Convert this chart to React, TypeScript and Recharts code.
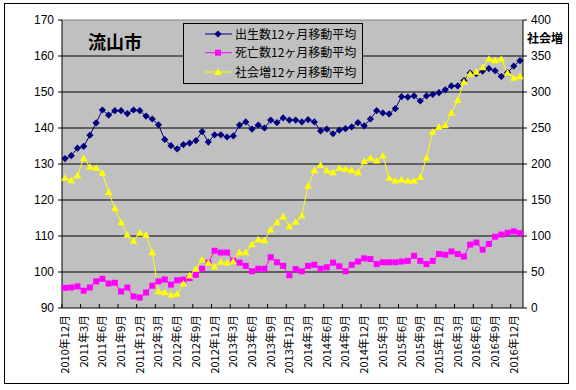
import React from "react";
import {
  LineChart,
  Line,
  XAxis,
  YAxis,
  CartesianGrid,
  ReferenceLine,
} from "recharts";

// 月別カテゴリ (2010年12月〜2017年1月)
const months = [
  "2010年12月",
  "2011年1月", "2011年2月", "2011年3月", "2011年4月", "2011年5月", "2011年6月",
  "2011年7月", "2011年8月", "2011年9月", "2011年10月", "2011年11月", "2011年12月",
  "2012年1月", "2012年2月", "2012年3月", "2012年4月", "2012年5月", "2012年6月",
  "2012年7月", "2012年8月", "2012年9月", "2012年10月", "2012年11月", "2012年12月",
  "2013年1月", "2013年2月", "2013年3月", "2013年4月", "2013年5月", "2013年6月",
  "2013年7月", "2013年8月", "2013年9月", "2013年10月", "2013年11月", "2013年12月",
  "2014年1月", "2014年2月", "2014年3月", "2014年4月", "2014年5月", "2014年6月",
  "2014年7月", "2014年8月", "2014年9月", "2014年10月", "2014年11月", "2014年12月",
  "2015年1月", "2015年2月", "2015年3月", "2015年4月", "2015年5月", "2015年6月",
  "2015年7月", "2015年8月", "2015年9月", "2015年10月", "2015年11月", "2015年12月",
  "2016年1月", "2016年2月", "2016年3月", "2016年4月", "2016年5月", "2016年6月",
  "2016年7月", "2016年8月", "2016年9月", "2016年10月", "2016年11月", "2016年12月",
  "2017年1月",
];

const births = [
  131.5, 132.3, 134.4, 134.9, 138.0, 141.4, 145.0, 143.6, 144.8, 144.8,
  144.0, 145.0, 144.8, 143.3, 142.5, 140.9, 136.8, 135.1, 134.2, 135.4,
  135.8, 136.5, 139.0, 136.1, 138.1, 138.1, 137.5, 137.8, 140.8, 141.7,
  139.7, 140.8, 140.0, 142.2, 141.5, 142.8, 142.2, 142.2, 141.7, 142.3,
  141.7, 139.2, 139.7, 138.4, 139.4, 139.8, 140.3, 141.5, 140.6, 142.5,
  144.8, 144.2, 143.9, 145.4, 148.7, 148.6, 148.9, 147.5, 148.9, 149.3,
  149.8, 150.6, 151.7, 151.7, 153.2, 155.3, 155.1, 155.8, 156.5, 155.9,
  154.3, 155.4, 157.2, 158.7,
];

const deaths = [
  95.6, 95.7, 96.0, 94.8, 95.7, 97.4, 98.1, 96.8, 97.0, 94.6,
  95.7, 93.2, 92.9, 94.3, 96.2, 97.4, 97.9, 96.5, 97.7, 97.9,
  98.3, 99.2, 100.9, 102.6, 105.9, 105.4, 105.4, 103.1, 102.6, 101.7,
  100.2, 100.9, 100.9, 104.1, 102.7, 101.7, 99.1, 100.8, 100.2, 101.7,
  102.0, 100.9, 101.3, 102.6, 101.6, 100.2, 102.0, 102.9, 103.8, 103.6,
  102.2, 102.7, 102.7, 102.7, 102.9, 103.1, 104.5, 103.1, 102.2, 103.1,
  105.0, 104.8, 105.7, 105.0, 104.3, 107.6, 108.2, 106.2, 107.8, 109.8,
  110.4, 110.9, 111.3, 110.8,
];

const socialGain = [
  180.6, 177.0, 183.8, 208.0, 195.8, 194.4, 187.5, 161.0, 138.3, 118.9,
  101.8, 93.0, 104.2, 101.4, 77.2, 23.0, 21.7, 18.0, 19.4, 33.7,
  44.9, 54.2, 67.0, 62.5, 57.5, 63.9, 62.5, 64.7, 77.2, 77.2,
  88.3, 94.9, 93.9, 108.8, 118.9, 127.2, 113.3, 119.4, 128.2, 169.5,
  191.2, 198.5, 191.2, 188.4, 194.4, 193.0, 191.2, 188.4, 203.7, 208.3,
  204.6, 211.5, 180.6, 176.7, 178.2, 176.7, 176.7, 181.5, 208.3, 244.5,
  251.4, 253.7, 270.9, 288.5, 313.9, 325.0, 327.8, 334.2, 345.9, 343.9,
  345.9, 326.4, 319.5, 321.7,
];

const leftTicks = [90, 100, 110, 120, 130, 140, 150, 160, 170];
const rightTicks = [0, 50, 100, 150, 200, 250, 300, 350, 400];
const gridValues = [100, 110, 120, 130, 140, 150, 160];

const seriesNames = [
  "出生数12ヶ月移動平均",
  "死亡数12ヶ月移動平均",
  "社会増12ヶ月移動平均",
];

const BLUE = "#000080";
const MAGENTA = "#FF00FF";
const YELLOW = "#FFFF00";

const data = months.map((m, i) => ({
  month: m,
  births: births[i],
  deaths: deaths[i],
  social: socialGain[i],
}));

const jp = "'Noto Sans CJK JP', sans-serif";

const Diamond = (p: any) => {
  const { cx, cy, index } = p;
  if (cx == null || cy == null) return <g key={`b-${index}`} />;
  const r = 3.6;
  return (
    <path
      key={`b-${index}`}
      d={`M${cx},${cy - r}L${cx + r},${cy}L${cx},${cy + r}L${cx - r},${cy}Z`}
      fill={BLUE}
    />
  );
};

const Square = (p: any) => {
  const { cx, cy, index } = p;
  if (cx == null || cy == null) return <g key={`d-${index}`} />;
  return <rect key={`d-${index}`} x={cx - 3} y={cy - 3} width={6} height={6} fill={MAGENTA} />;
};

const Triangle = (p: any) => {
  const { cx, cy, index } = p;
  if (cx == null || cy == null) return <g key={`s-${index}`} />;
  return (
    <path
      key={`s-${index}`}
      d={`M${cx},${cy - 3.8}L${cx + 3.8},${cy + 2.8}L${cx - 3.8},${cy + 2.8}Z`}
      fill={YELLOW}
    />
  );
};

const MonthTick = ({ x, y, payload }: any) => (
  <g transform={`translate(${x},${y})`}>
    <line x1={-3.1} x2={-3.1} y1={0} y2={-4} stroke="#000" />
    <text
      transform="rotate(-90)"
      x={-7}
      y={4}
      textAnchor="end"
      fontSize={11}
      fontFamily={jp}
      fill="#000"
    >
      {payload.value}
    </text>
  </g>
);

const legendMarks = [
  <path key="m0" d="M218,30.4L221.6,34L218,37.6L214.4,34Z" fill={BLUE} />,
  <rect key="m1" x={215} y={49.7} width={6} height={6} fill={MAGENTA} />,
  <path key="m2" d="M218,68.5L221.8,75.1L214.2,75.1Z" fill={YELLOW} />,
];

export default function App() {
  const colors = [BLUE, MAGENTA, YELLOW];
  const rows = [34, 52.7, 72];
  return (
    <div style={{ position: "absolute", left: 0, top: 0, width: 576, height: 390, background: "#fff" }}>
      <div
        style={{
          position: "absolute",
          left: 4,
          top: 3,
          width: 563,
          height: 379,
          border: "1px solid #000",
        }}
      />
      <LineChart
        width={576}
        height={390}
        data={data}
        margin={{ top: 20, right: 8, bottom: 12, left: 12 }}
        style={{ position: "absolute", left: 0, top: 0 }}
      >
        <CartesianGrid
          yAxisId="left"
          vertical={false}
          horizontalValues={gridValues}
          stroke="#000"
          strokeWidth={1}
          fill="#C0C0C0"
          fillOpacity={1}
        />
        <XAxis
          dataKey="month"
          interval={2}
          padding={{ left: 3, right: 3 }}
          height={70}
          tickSize={0}
          tickMargin={0}
          tickLine={false}
          axisLine={{ stroke: "#000" }}
          tick={<MonthTick />}
        />
        <YAxis
          yAxisId="left"
          domain={[90, 170]}
          ticks={leftTicks}
          interval={0}
          width={50}
          tickSize={4}
          tickMargin={4}
          axisLine={{ stroke: "#000" }}
          tickLine={{ stroke: "#000" }}
          tick={{ fill: "#000", fontSize: 12, fontFamily: "'Liberation Sans', Arial, sans-serif" }}
        />
        <YAxis
          yAxisId="right"
          orientation="right"
          domain={[0, 400]}
          ticks={rightTicks}
          interval={0}
          width={45}
          tickSize={4}
          tickMargin={4}
          axisLine={{ stroke: "#000" }}
          tickLine={{ stroke: "#000" }}
          tick={{ fill: "#000", fontSize: 12, fontFamily: "'Liberation Sans', Arial, sans-serif" }}
        />
        <ReferenceLine yAxisId="left" y={170} stroke="#808080" />
        <Line
          yAxisId="left"
          dataKey="births"
          name={seriesNames[0]}
          stroke={BLUE}
          strokeWidth={1}
          dot={Diamond}
          activeDot={false}
          isAnimationActive={false}
        />
        <Line
          yAxisId="left"
          dataKey="deaths"
          name={seriesNames[1]}
          stroke={MAGENTA}
          strokeWidth={1}
          dot={Square}
          activeDot={false}
          isAnimationActive={false}
        />
        <Line
          yAxisId="right"
          dataKey="social"
          name={seriesNames[2]}
          stroke={YELLOW}
          strokeWidth={1}
          dot={Triangle}
          activeDot={false}
          isAnimationActive={false}
        />
      </LineChart>
      {/* title + legend overlay */}
      <svg width={576} height={390} style={{ position: "absolute", left: 0, top: 0, pointerEvents: "none" }}>
        <text x={88} y={49} fontSize={18} fontWeight="bold" fontFamily={jp} fill="#000">
          流山市
        </text>
        <text x={527} y={43} fontSize={12} fontWeight="bold" fontFamily={jp} fill="#000">
          社会増
        </text>
        <rect x={183.5} y={23.5} width={179} height={60} fill="#C0C0C0" stroke="#000" />
        {seriesNames.map((n, i) => (
          <g key={n}>
            <line x1={205} x2={232} y1={rows[i]} y2={rows[i]} stroke={colors[i]} />
            <text x={235} y={rows[i] + 4.5} fontSize={12} fontFamily={jp} fill="#000">
              {n}
            </text>
          </g>
        ))}
        {legendMarks}
      </svg>
    </div>
  );
}
